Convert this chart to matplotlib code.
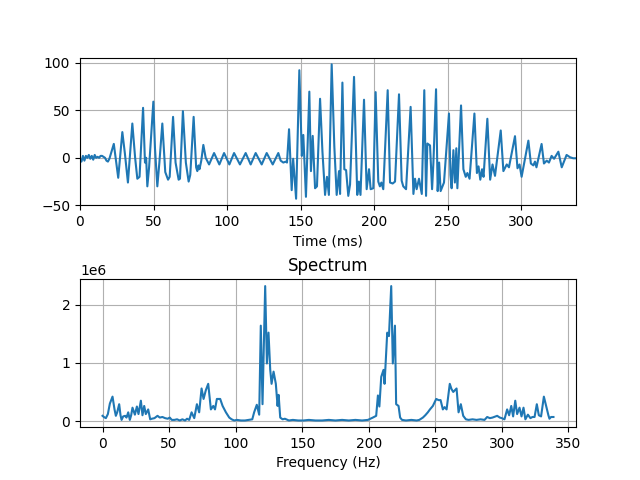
import matplotlib
matplotlib.use("Agg")
import matplotlib.pyplot as plt
import numpy as np

# time signal (ms, amplitude)
t_ms = [0, 1, 2, 3, 4, 5, 6, 7, 8, 9, 10, 11, 12, 13, 14, 15, 16, 17, 18, 19, 20,
        23, 26, 28.8, 30.5, 32.6, 35.6, 37.5, 39, 40.5, 42.9, 44.2, 45, 45.8, 47,
        49.9, 51, 52.6, 54, 56, 58, 59.9, 61, 63.3, 65, 67.1, 68, 70, 72, 73.9,
        75, 77.3, 79, 79.8, 80.6, 81.3, 82.5, 83.9, 85.5, 87.8, 91.2, 94.8, 98,
        101.6, 104.8, 108.8, 112.7, 116.1, 119.5, 123.6, 127, 131.1, 134.9, 136.5,
        138.3, 140, 140.8, 142.2, 144, 145, 147, 149.2, 150.9, 151.9, 153.7, 156,
        157.1, 158.3, 159.9, 161.2, 163.3, 164.9, 166.7, 168, 169.3, 171.2, 173,
        174.6, 176.2, 176.9, 178.5, 179.8, 181, 182.5, 183.7, 186.4, 187.7, 188.6,
        189.7, 190.8, 193.2, 195, 196.6, 197.7, 199.5, 201.1, 202.9, 204, 205,
        206.3, 209.3, 210.9, 212.7, 214.3, 217, 218.8, 219.9, 221.8, 224.9, 226.8,
        227.9, 229, 230.6, 232.5, 234.2, 235.4, 236.3, 238.1, 239.5, 240.4, 242.2,
        243.3, 244.3, 245.3, 247.6, 251, 252, 252.8, 254, 255, 256, 256.7, 259.2,
        260.8, 262.4, 263.5, 265, 268.3, 270, 271.1, 272.3, 273.5, 274.5, 277.1,
        279, 280.6, 282.3, 286.2, 288, 290.3, 291.8, 295.9, 297.6, 299, 300.4, 305,
        306.7, 308.4, 309.5, 310.5, 314, 315.6, 317.5, 319, 320.8, 322.5, 325.4,
        327.7, 331, 333.3, 335.5, 337.4]
signal = [-1, -4, 2, -3, 2, 0, 3, -1, 2, -2, 3, 0, 1, 0, 2, 2, 1, 0, -3, -4, -1,
          14.6, -21, 27, 5, -26, 36, 0, -22, -20, 52.5, -5, 0, -30, -10,
          59, 10, -30, -5, 36, -15, -23, -20, 43, -5, -23, -22, 49, -5, -25,
          -18, 43, -10, -14, -8, -12, -3, 13.5, 0, -7, 5, -7, 5,
          -7, 5, -7, 5, -7, 5, -7, 5, -7, 5, -3,
          -5, -4, -5, 30, -34, -1, -43, 92, 2, 24, -41, 69.5,
          -14, 23, -32, -30, 62, 7, -39, -20, -39, 98.2, 12,
          -39, -14, -38, 79, -12, -13, -40, -28, 85, 12, -39,
          -25, -39, 61, -33, -12, -33, -32, 69, -25, -30, -26,
          -33, 71, -26, -27, -25, 66.7, -24, -30, -33, 53.5, -38,
          -22, -33, -22, -38, 71, -40, 15, 13, -33, -5, 72,
          -35, -5, -35, -26, 46.5, -18, -32, 8, -26, 10, -32, 55,
          -12, -20, -16, -22, 46.5, -16, -9, -23, -12, -20, 41,
          -23, -7, -19, 28.7, -14, -7, -10, 22.7, -11, -7, -20, 18,
          -6, -8, -4, -10, 14.5, -6, -3, -5, 2, -1, 6.4,
          -10, 3, 0.6, -0.5, -0.5]

# spectrum magnitude (Hz, units of 1e6)
freq_hz = [0, 1, 2.5, 4, 5.5, 7.5, 9, 10, 11, 12.5, 13.5, 14.3, 15.5, 17, 18, 19.3,
           20.5, 21.5, 22.5, 24.3, 25.8, 27, 28.8, 30, 31.3, 32.5, 34.3, 35.8, 37,
           39, 41.3, 43, 45, 47, 49, 50.5, 52, 54, 56, 58, 60, 62, 63.5, 65.1, 66.9,
           68.9, 70.9, 72.6, 74.4, 75.9, 77.6, 79.4, 81.4, 83.2, 84.5, 85.9, 88.4,
           90.2, 92.7, 95.2, 97, 98.9, 101, 104, 107, 110, 112.5, 113.9, 115.9,
           117.7, 118.9, 120.2, 122.2, 123.5, 124.7, 126, 127, 128.5, 130.2, 131.5,
           132.3, 133.5, 135.3, 137, 140, 143, 147, 151, 155, 160, 165, 170, 175,
           180, 185, 190, 195, 199.4, 203.1, 205.6, 206.9, 208, 209.4, 211.1, 211.9,
           213.9, 215.2, 216.9, 218.1, 219.7, 220.6, 222.4, 223.6, 225, 228, 232,
           236, 238, 240.7, 242.5, 244.4, 246, 248.2, 250.7, 252.5, 254, 255.7, 257,
           258.5, 260.9, 262.2, 263.5, 266, 267.5, 269.2, 271, 273, 275, 278, 281,
           284, 287, 289, 291, 293, 296.5, 298.5, 300, 302, 304, 305.5, 307.1,
           308.5, 310.1, 311.5, 313.3, 314.8, 316.3, 317.7, 319.6, 321.5, 323,
           324.6, 326.3, 327.8, 329.5, 331.6, 333.3, 335, 335.8, 337, 338.8]
magnitude = [0.09, 0.07, 0.05, 0.12, 0.3, 0.42, 0.2, 0.09, 0.15, 0.29, 0.1, 0.02, 0.08, 0.09, 0.06, 0.15,
             0.02, 0.1, 0.23, 0.11, 0.25, 0.12, 0.35, 0.1, 0.26, 0.12, 0.2, 0.03, 0.04,
             0.05, 0.09, 0.06, 0.07, 0.05, 0.04, 0.06, 0.02, 0.02, 0.03, 0.01, 0.03, 0.01, 0.04, 0.02, 0.15,
             0.05, 0.29, 0.15, 0.56, 0.38, 0.53, 0.64, 0.2, 0.26, 0.2, 0.38, 0.38,
             0.26, 0.15, 0.06, 0.03, 0.01, 0.02, 0.01, 0.01, 0.02, 0.03, 0.15, 0.28,
             0.11, 1.64, 0.29, 2.32, 0.99, 1.52, 0.88, 0.64, 0.85, 0.64, 0.26,
             0.45, 0.06, 0.03, 0.04, 0.01, 0.02, 0.01, 0.01, 0.02, 0.01, 0.01, 0.02, 0.01,
             0.02, 0.01, 0.02, 0.01, 0.02, 0.06, 0.09, 0.44, 0.25, 0.76, 0.88, 0.64,
             1.52, 1.46, 2.32, 0.99, 1.64, 0.29, 0.26, 0.06, 0.02, 0.01, 0.02,
             0.01, 0.02, 0.06, 0.1, 0.15, 0.2, 0.26, 0.38, 0.36, 0.36, 0.2, 0.24,
             0.2, 0.64, 0.55, 0.5, 0.56, 0.15, 0.29, 0.09, 0.03, 0.02, 0.03, 0.02,
             0.03, 0.02, 0.07, 0.05, 0.06, 0.09, 0.06, 0.05, 0.03, 0.2, 0.1, 0.26,
             0.08, 0.35, 0.12, 0.23, 0.08, 0.23, 0.03, 0.11, 0.05, 0.07,
             0.07, 0.29, 0.1, 0.08, 0.42, 0.26, 0.1, 0.04, 0.07, 0.07]

fig, (ax1, ax2) = plt.subplots(2, 1, figsize=(6.4, 4.8))
fig.subplots_adjust(hspace=0.5)

# ── Top: time signal ──
ax1.plot(t_ms, signal)
ax1.set_xlim(t_ms[0], t_ms[-1])
ax1.set_xlabel("Time (ms)")
ax1.grid(True)

# ── Bottom: spectrum ──
ax2.plot(freq_hz, np.array(magnitude) * 1e6)
ax2.set_title("Spectrum")
ax2.set_xlabel("Frequency (Hz)")
ax2.grid(True)

fig.savefig("out.png", dpi=100)
